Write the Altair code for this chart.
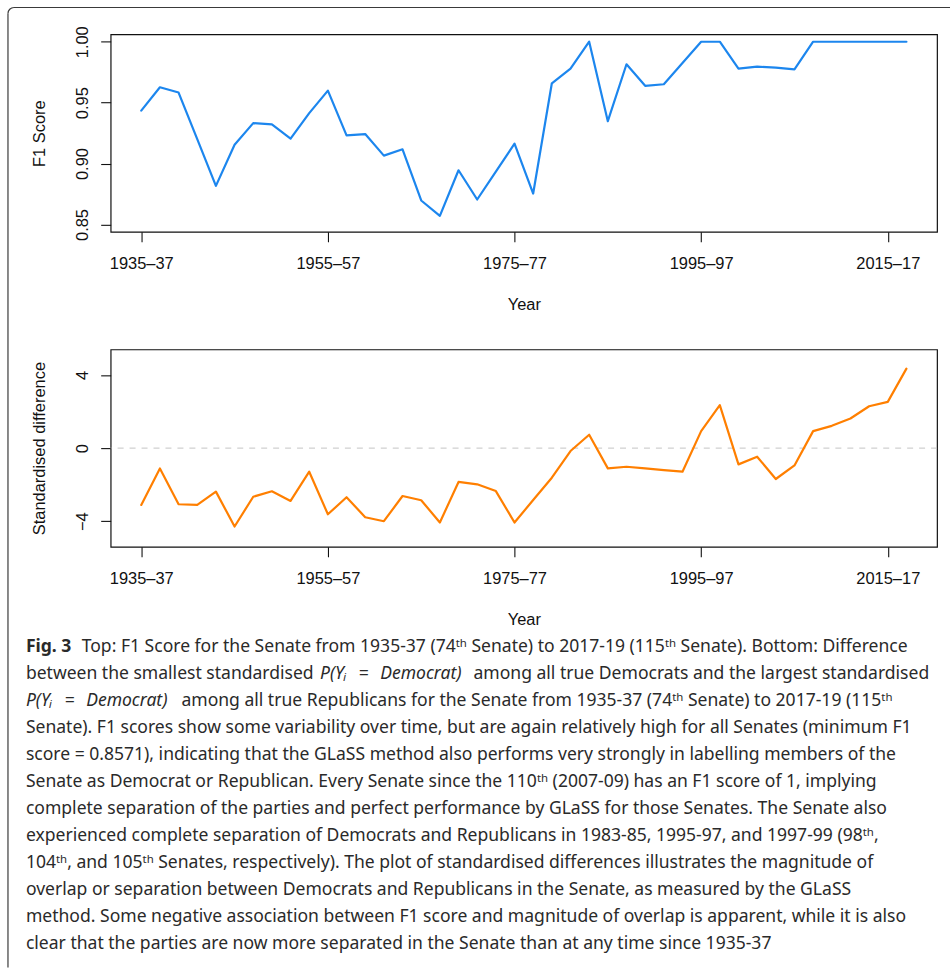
import math

import altair as alt
import pandas as pd

# Senates 74 to 115, keyed by the first year of each two-year session
years = list(range(1935, 2019, 2))

f1_score = [
    0.9435, 0.9626, 0.9583, 0.9200, 0.8817, 0.9155, 0.9332, 0.9321, 0.9204, 0.9414,
    0.9599, 0.9231, 0.9242, 0.9065, 0.9117, 0.8697, 0.8571, 0.8945, 0.8705, 0.8934,
    0.9163, 0.8754, 0.9659, 0.9779, 1.0000, 0.9348, 0.9815, 0.9638, 0.9651, 0.9825,
    1.0000, 1.0000, 0.9779, 0.9796, 0.9787, 0.9773, 1.0000, 1.0000, 1.0000, 1.0000,
    1.0000, 1.0000,
]

std_diff = [
    -3.11, -1.11, -3.07, -3.11, -2.38, -4.29, -2.66, -2.36, -2.89, -1.29,
    -3.62, -2.69, -3.78, -4.00, -2.62, -2.85, -4.07, -1.85, -1.98, -2.35,
    -4.07, -2.84, -1.62, -0.16, 0.73, -1.11, -1.02, -1.11, -1.20, -1.29,
    0.93, 2.35, -0.89, -0.47, -1.69, -0.95, 0.93, 1.22, 1.62, 2.29,
    2.53, 4.35,
]

tick_years = [1935, 1955, 1975, 1995, 2015]
tick_labels = ["1935–37", "1955–57", "1975–77", "1995–97", "2015–17"]
f1_ticks = [0.85, 0.90, 0.95, 1.00]
diff_ticks = [-4, 0, 4]

# Caption, one entry per run of text: (line, style, text)
PY = "P(Yᵢ\u2002\u2009=\u2002\u2009Democrat)"
caption_runs = [
    (0, "bold", "Fig. 3"),
    (0, "normal", "Top: F1 Score for the Senate from 1935-37 (74ᵗʰ Senate) to 2017-19 (115ᵗʰ Senate). Bottom: Difference"),
    (1, "normal", "between the smallest standardised"),
    (1, "italic", PY),
    (1, "normal", "among all true Democrats and the largest standardised"),
    (2, "italic", PY),
    (2, "normal", "among all true Republicans for the Senate from 1935-37 (74ᵗʰ Senate) to 2017-19 (115ᵗʰ"),
    (3, "normal", "Senate). F1 scores show some variability over time, but are again relatively high for all Senates (minimum F1"),
    (4, "normal", "score = 0.8571), indicating that the GLaSS method also performs very strongly in labelling members of the"),
    (5, "normal", "Senate as Democrat or Republican. Every Senate since the 110ᵗʰ (2007-09) has an F1 score of 1, implying"),
    (6, "normal", "complete separation of the parties and perfect performance by GLaSS for those Senates. The Senate also"),
    (7, "normal", "experienced complete separation of Democrats and Republicans in 1983-85, 1995-97, and 1997-99 (98ᵗʰ,"),
    (8, "normal", "104ᵗʰ, and 105ᵗʰ Senates, respectively). The plot of standardised differences illustrates the magnitude of"),
    (9, "normal", "overlap or separation between Democrats and Republicans in the Senate, as measured by the GLaSS"),
    (10, "normal", "method. Some negative association between F1 score and magnitude of overlap is apparent, while it is also"),
    (11, "normal", "clear that the parties are now more separated in the Senate than at any time since 1935-37"),
]
# left edge of each run, in pixels from the plot panels' left edge
caption_x = [-85, -29, -85, 210, 364, -85, 71, -85, -85, -85, -85, -85, -85, -85, -85, -85]

# ---- styling ----
BLUE = "#1c86ee"
ORANGE = "#ff7f00"
INK = "#111111"
TEXT_INK = "#2a2a2a"
FRAME = "#3a3a3a"
AXIS_FONT = "Liberation Sans"
TEXT_FONT = "Noto Sans"
AXIS_SIZE = 16.5
CAPTION_SIZE = 17.6
PLOT_W = 829
PANEL_H = 198

df = pd.DataFrame({"year": years, "f1": f1_score, "diff": std_diff})
one_row = pd.DataFrame({"k": [0]})

label_expr = " : ".join(
    f"datum.value == {y} ? '{lab}'" for y, lab in zip(tick_years, tick_labels)
) + " : ''"

x_scale = alt.Scale(domain=[1931.72, 2020.28], nice=False, zero=False)


def x_axis():
    return alt.Axis(
        values=tick_years, labelExpr=label_expr, title="Year", grid=False, domain=False,
        tickSize=10, tickWidth=1.1, tickColor=INK,
        labelFont=AXIS_FONT, labelFontSize=AXIS_SIZE, labelColor=INK, labelAngle=0,
        labelAlign="center", labelBaseline="top", labelPadding=14,
        labelFlush=False, labelOverlap=False,
        titleFont=AXIS_FONT, titleFontSize=AXIS_SIZE, titleFontWeight="normal", titleColor=INK,
        titleX=PLOT_W / 2, titleY=78, titleAlign="center", titleBaseline="alphabetic",
    )


def y_axis(title, values, fmt):
    return alt.Axis(
        values=values, format=fmt, title=title, grid=False, domain=False,
        tickSize=10, tickWidth=1.1, tickColor=INK,
        labelFont=AXIS_FONT, labelFontSize=AXIS_SIZE, labelColor=INK, labelAngle=270,
        labelAlign="center", labelBaseline="alphabetic", labelPadding=13,
        labelFlush=False, labelOverlap=False,
        titleFont=AXIS_FONT, titleFontSize=AXIS_SIZE, titleFontWeight="normal", titleColor=INK,
        titleAngle=270, titleAlign="center", titleBaseline="alphabetic",
        titleX=-66, titleY=PANEL_H / 2,
    )


# ---- top panel: F1 score ----
f1_line = alt.Chart(df).mark_line(
    color=BLUE, strokeWidth=2.2, strokeJoin="round", strokeCap="round"
).encode(
    x=alt.X("year:Q", scale=x_scale, axis=x_axis()),
    y=alt.Y("f1:Q", scale=alt.Scale(domain=[0.844, 1.006], nice=False, zero=False),
            axis=y_axis("F1 Score", f1_ticks, ".2f")),
)

# figure frame: top edge, left edge and rounded corner
frame_top = alt.Chart(one_row).mark_rule(color=FRAME, strokeWidth=1.2).encode(
    x=alt.value(-97), x2=alt.value(842), y=alt.value(-27)
)
frame_left = alt.Chart(one_row).mark_rule(color=FRAME, strokeWidth=1.2).encode(
    x=alt.value(-103), y=alt.value(-21), y2=alt.value(936)
)
frame_corner = alt.Chart(one_row).mark_arc(
    radius=6, radius2=6, theta=1.5 * math.pi, theta2=2 * math.pi,
    stroke=FRAME, strokeWidth=1.2, fillOpacity=0,
).encode(x=alt.value(-97), y=alt.value(-21))

top = alt.layer(frame_top, frame_left, frame_corner, f1_line).properties(
    width=PLOT_W, height=PANEL_H
)

# ---- bottom panel: standardised difference ----
diff_scale = alt.Scale(domain=[-5.4, 5.4], nice=False, zero=False)

zero_line = alt.Chart(one_row).mark_rule(
    color="#c4c4c4", strokeWidth=1, strokeDash=[6, 6]
).encode(y=alt.datum(0, scale=diff_scale))

diff_line = alt.Chart(df).mark_line(
    color=ORANGE, strokeWidth=2.2, strokeJoin="round", strokeCap="round"
).encode(
    x=alt.X("year:Q", scale=x_scale, axis=x_axis()),
    y=alt.Y("diff:Q", scale=diff_scale, axis=y_axis("Standardised difference", diff_ticks, "d")),
)

bottom = alt.layer(zero_line, diff_line).properties(width=PLOT_W, height=PANEL_H)

# ---- caption ----
cap_df = pd.DataFrame({
    "line": [r[0] for r in caption_runs],
    "style": [r[1] for r in caption_runs],
    "text": [r[2] for r in caption_runs],
    "x": caption_x,
})

cap_base = alt.Chart(cap_df).encode(
    x=alt.X("x:Q", scale=None, axis=None),
    y=alt.Y("line:Q", scale=alt.Scale(domain=[0, 11], range=[-17, 280]), axis=None),
    text="text:N",
)
cap_kw = dict(align="left", baseline="middle", font=TEXT_FONT, fontSize=CAPTION_SIZE, color=TEXT_INK)
cap_normal = cap_base.mark_text(**cap_kw).transform_filter(alt.datum.style == "normal")
cap_bold = cap_base.mark_text(fontWeight="bold", **cap_kw).transform_filter(alt.datum.style == "bold")
cap_italic = cap_base.mark_text(fontStyle="italic", **cap_kw).transform_filter(alt.datum.style == "italic")

caption = alt.layer(cap_normal, cap_bold, cap_italic).properties(
    width=PLOT_W, height=290, view=alt.ViewBackground(strokeOpacity=0)
)

chart = alt.vconcat(
    top, bottom, caption,
    spacing=118, bounds="flush",
    padding={"left": 5, "top": 3, "right": 0, "bottom": 0},
    background="white",
).configure_view(stroke=INK, strokeWidth=1.2)

chart.save("out.html", embed_options={"renderer": "svg", "actions": False})
